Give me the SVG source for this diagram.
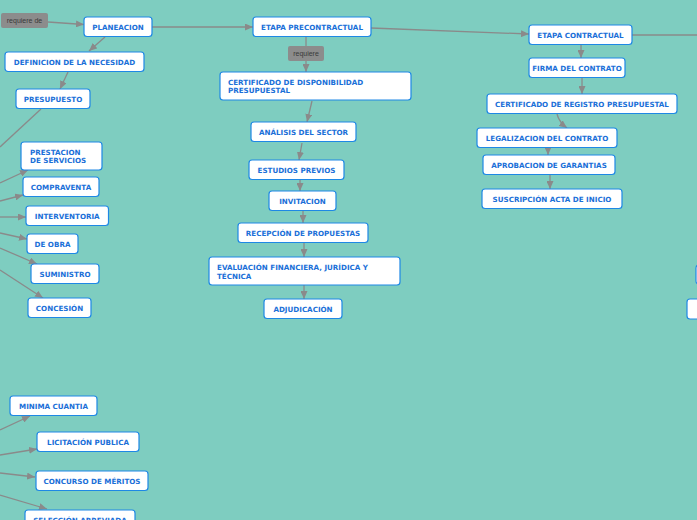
<svg xmlns="http://www.w3.org/2000/svg" width="697" height="520" viewBox="0 0 697 520">
<style>
.bg{fill:#7ecdc0}
.box{fill:#ffffff;stroke:#1e88e5;stroke-width:1.2}
.t{font-family:"DejaVu Sans",Verdana,sans-serif;font-size:7.15px;font-weight:bold;fill:#1a6fd8}
.c{text-anchor:middle}
.lbl{fill:#8c8c8c}
.lt{font-family:"Liberation Sans",Arial,sans-serif;font-size:7px;fill:#3a3a3a;text-anchor:middle}
.con{stroke:#8a8a8a;stroke-width:1.3;fill:none}
.a{marker-end:url(#ah)}
</style>
<defs>
<marker id="ah" markerUnits="userSpaceOnUse" markerWidth="8" markerHeight="7" refX="8" refY="3.5" orient="auto"><path d="M0,0 L8,3.5 L0,7 z" fill="#8a8a8a"/></marker>
</defs>
<rect class="bg" x="0" y="0" width="697" height="520"/>
<g id="connectors">
<line class="con a" x1="48" y1="22" x2="84" y2="24.5"/>
<line class="con a" x1="152" y1="27" x2="253" y2="27"/>
<line class="con a" x1="371" y1="28" x2="529" y2="34"/>
<line class="con" x1="632" y1="35" x2="697" y2="35"/>
<line class="con a" x1="105" y1="37" x2="89" y2="51"/>
<line class="con a" x1="68" y1="72" x2="60" y2="89"/>
<line class="con" x1="41" y1="109" x2="0" y2="147"/>
<line class="con a" x1="0" y1="183" x2="28" y2="170"/>
<line class="con a" x1="0" y1="201" x2="23" y2="195"/>
<line class="con a" x1="0" y1="217" x2="26" y2="217"/>
<line class="con a" x1="0" y1="233" x2="27" y2="239"/>
<line class="con a" x1="0" y1="248" x2="37" y2="264"/>
<line class="con a" x1="0" y1="270" x2="43" y2="298"/>
<line class="con" x1="306" y1="37" x2="306" y2="46"/>
<line class="con a" x1="306" y1="61" x2="306" y2="72"/>
<line class="con a" x1="312" y1="101" x2="307" y2="122"/>
<line class="con a" x1="302" y1="143" x2="299" y2="160"/>
<line class="con a" x1="300" y1="180" x2="300" y2="191"/>
<line class="con a" x1="303" y1="211" x2="303" y2="223"/>
<line class="con a" x1="304" y1="243" x2="304" y2="257"/>
<line class="con a" x1="304" y1="285" x2="304" y2="299"/>
<line class="con a" x1="581" y1="44" x2="581" y2="58"/>
<line class="con a" x1="582" y1="78" x2="582" y2="94"/>
<path class="con a" d="M557,114 Q559,122 567,128"/>
<line class="con a" x1="548" y1="148" x2="548" y2="155"/>
<line class="con a" x1="550" y1="175" x2="550" y2="189"/>
<line class="con a" x1="0" y1="430" x2="30" y2="416"/>
<line class="con a" x1="0" y1="455" x2="37" y2="449"/>
<line class="con a" x1="0" y1="473" x2="35" y2="477"/>
<line class="con a" x1="0" y1="495" x2="47" y2="509"/>
</g>
<g id="lbl-requiere-de"><rect class="lbl" x="1" y="13" width="47" height="15" rx="2"/><text class="lt" x="24.5" y="23">requiere de</text></g>
<g id="lbl-requiere"><rect class="lbl" x="288" y="46" width="36" height="15" rx="2"/><text class="lt" x="306" y="56">requiere</text></g>
<g id="planeacion"><rect class="box" x="84" y="17" width="68" height="19.5" rx="3"/><text class="t c" x="118" y="29.5">PLANEACION</text></g>
<g id="definicion"><rect class="box" x="5" y="52" width="139" height="19.5" rx="3"/><text class="t c" x="74.5" y="64.5">DEFINICION DE LA NECESIDAD</text></g>
<g id="presupuesto"><rect class="box" x="16" y="89" width="74" height="19.5" rx="3"/><text class="t c" x="53" y="101.5">PRESUPUESTO</text></g>
<g id="prestacion"><rect class="box" x="21" y="142" width="81" height="28" rx="3"/><text class="t" x="30" y="155">PRESTACION</text><text class="t" x="30" y="163">DE SERVICIOS</text></g>
<g id="compraventa"><rect class="box" x="23" y="177" width="76" height="19.5" rx="3"/><text class="t c" x="61" y="189.5">COMPRAVENTA</text></g>
<g id="interventoria"><rect class="box" x="26" y="206" width="82.5" height="19.5" rx="3"/><text class="t c" x="67.2" y="218.5">INTERVENTORIA</text></g>
<g id="de-obra"><rect class="box" x="27" y="234" width="51" height="19.5" rx="3"/><text class="t c" x="52.5" y="246.5">DE OBRA</text></g>
<g id="suministro"><rect class="box" x="31" y="264" width="68" height="19.5" rx="3"/><text class="t c" x="65" y="276.5">SUMINISTRO</text></g>
<g id="concesion"><rect class="box" x="28" y="298" width="63" height="19.5" rx="3"/><text class="t c" x="59.5" y="310.5">CONCESIÓN</text></g>
<g id="etapa-pre"><rect class="box" x="253" y="17" width="118" height="19.5" rx="3"/><text class="t c" x="312" y="29.5">ETAPA PRECONTRACTUAL</text></g>
<g id="cdp"><rect class="box" x="220" y="72" width="191" height="28" rx="3"/><text class="t" x="228" y="85">CERTIFICADO DE DISPONIBILIDAD</text><text class="t" x="228" y="93">PRESUPUESTAL</text></g>
<g id="analisis"><rect class="box" x="251" y="122" width="105" height="19.5" rx="3"/><text class="t c" x="303.5" y="134.5">ANÁLISIS DEL SECTOR</text></g>
<g id="estudios"><rect class="box" x="249" y="160" width="95" height="19.5" rx="3"/><text class="t c" x="296.5" y="172.5">ESTUDIOS PREVIOS</text></g>
<g id="invitacion"><rect class="box" x="269" y="191" width="67" height="19.5" rx="3"/><text class="t c" x="302.5" y="203.5">INVITACION</text></g>
<g id="recepcion"><rect class="box" x="238" y="223" width="130" height="19.5" rx="3"/><text class="t c" x="303" y="235.5">RECEPCIÓN DE PROPUESTAS</text></g>
<g id="evaluacion"><rect class="box" x="209" y="257" width="191" height="28" rx="3"/><text class="t" x="217" y="270">EVALUACIÓN FINANCIERA, JURÍDICA Y</text><text class="t" x="217" y="279">TÉCNICA</text></g>
<g id="adjudicacion"><rect class="box" x="264" y="299" width="78" height="19.5" rx="3"/><text class="t c" x="303" y="311.5">ADJUDICACIÓN</text></g>
<g id="etapa-con"><rect class="box" x="529" y="25" width="103" height="19.5" rx="3"/><text class="t c" x="580.5" y="37.5">ETAPA CONTRACTUAL</text></g>
<g id="firma"><rect class="box" x="529" y="58" width="96" height="19.5" rx="3"/><text class="t c" x="577" y="70.5">FIRMA DEL CONTRATO</text></g>
<g id="crp"><rect class="box" x="487" y="94" width="190" height="19.5" rx="3"/><text class="t c" x="582" y="106.5">CERTIFICADO DE REGISTRO PRESUPUESTAL</text></g>
<g id="legalizacion"><rect class="box" x="477" y="128" width="140" height="19.5" rx="3"/><text class="t c" x="547" y="140.5">LEGALIZACION DEL CONTRATO</text></g>
<g id="aprobacion"><rect class="box" x="483" y="155" width="132" height="19.5" rx="3"/><text class="t c" x="549" y="167.5">APROBACION DE GARANTIAS</text></g>
<g id="suscripcion"><rect class="box" x="482" y="189" width="140" height="19.5" rx="3"/><text class="t c" x="552" y="201.5">SUSCRIPCIÓN ACTA DE INICIO</text></g>
<g id="right-1"><rect class="box" x="696" y="265" width="20" height="19" rx="3"/></g>
<g id="right-2"><rect class="box" x="687" y="299" width="30" height="20" rx="3"/></g>
<g id="minima"><rect class="box" x="10" y="396" width="87" height="19.5" rx="3"/><text class="t c" x="53.5" y="408.5">MINIMA CUANTIA</text></g>
<g id="licitacion"><rect class="box" x="37" y="432" width="102" height="19.5" rx="3"/><text class="t c" x="88" y="444.5">LICITACIÓN PUBLICA</text></g>
<g id="concurso"><rect class="box" x="36" y="471" width="112" height="19.5" rx="3"/><text class="t c" x="92" y="483.5">CONCURSO DE MÉRITOS</text></g>
<g id="seleccion"><rect class="box" x="25" y="510" width="110" height="19.5" rx="3"/><text class="t c" x="80" y="522.5">SELECCIÓN ABREVIADA</text></g>
</svg>
